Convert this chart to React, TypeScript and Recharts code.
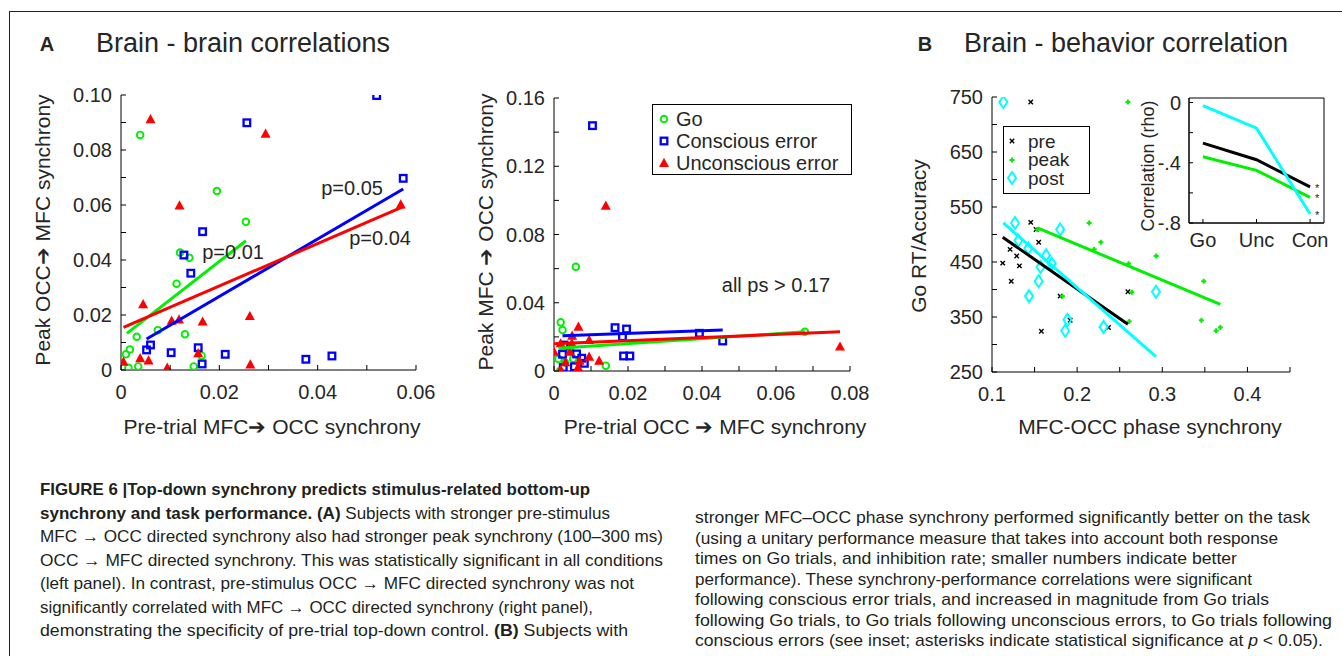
import React from "react";
import {
  ScatterChart,
  Scatter,
  XAxis,
  YAxis,
  Legend,
  ReferenceDot,
  ReferenceArea,
  LineChart,
  Line,
} from "recharts";

const FONT = "'Liberation Sans', Arial, Helvetica, sans-serif";
const INK = "#262626";
const GREEN = "#00f000";
const BLUE = "#0000ff";
const RED = "#ff0000";
const CYAN = "#00ffff";

// ---- Panel A, left: pre-trial MFC->OCC vs peak OCC->MFC
const leftGo = [
  { x: 0.0039, y: 0.0855 }, { x: 0.0195, y: 0.0651 }, { x: 0.0254, y: 0.0539 },
  { x: 0.012, y: 0.0427 }, { x: 0.0139, y: 0.0408 }, { x: 0.0113, y: 0.0314 },
  { x: 0.0075, y: 0.0145 }, { x: 0.0032, y: 0.0121 }, { x: 0.013, y: 0.013 },
  { x: 0.0018, y: 0.0075 }, { x: 0.001, y: 0.0057 }, { x: 0.0015, y: 0.0008 },
  { x: 0.0035, y: 0.0013 }, { x: 0.0148, y: 0.0013 }, { x: 0.0164, y: 0.0052 },
];
const leftCons = [
  { x: 0.052, y: 0.0998 }, { x: 0.0256, y: 0.0899 }, { x: 0.0574, y: 0.0697 },
  { x: 0.0166, y: 0.0503 }, { x: 0.0128, y: 0.0418 }, { x: 0.0142, y: 0.0352 },
  { x: 0.006, y: 0.0091 }, { x: 0.0052, y: 0.0073 }, { x: 0.0102, y: 0.0063 },
  { x: 0.0157, y: 0.0081 }, { x: 0.0212, y: 0.0057 }, { x: 0.0165, y: 0.0022 },
  { x: 0.0376, y: 0.0039 }, { x: 0.0429, y: 0.0051 },
];
const leftUnc = [
  { x: 0.006, y: 0.0912 }, { x: 0.0294, y: 0.0859 }, { x: 0.0119, y: 0.0598 },
  { x: 0.0569, y: 0.0602 }, { x: 0.0045, y: 0.0239 }, { x: 0.0103, y: 0.0179 },
  { x: 0.0118, y: 0.0184 }, { x: 0.0166, y: 0.0176 }, { x: 0.0262, y: 0.0196 },
  { x: 0.0005, y: 0.003 }, { x: 0.0039, y: 0.0043 }, { x: 0.0056, y: 0.0035 },
  { x: 0.0094, y: 0.0008 }, { x: 0.0157, y: 0.0061 }, { x: 0.0263, y: 0.002 },
];
const leftGoFit = [{ x: 0.0012, y: 0.0133 }, { x: 0.0254, y: 0.047 }];
const leftConsFit = [{ x: 0.0052, y: 0.0113 }, { x: 0.0574, y: 0.0658 }];
const leftUncFit = [{ x: 0.0005, y: 0.0155 }, { x: 0.0574, y: 0.0594 }];
const leftNotes = [
  { x: 0.0228, y: 0.0429, text: "p=0.01" },
  { x: 0.047, y: 0.0662, text: "p=0.05" },
  { x: 0.0527, y: 0.048, text: "p=0.04" },
];
const leftXTicks = [0, 0.01, 0.02, 0.03, 0.04, 0.05, 0.06];
const leftYTicks = [0, 0.01, 0.02, 0.03, 0.04, 0.05, 0.06, 0.07, 0.08, 0.09, 0.1];

// ---- Panel A, right: pre-trial OCC->MFC vs peak MFC->OCC
const midGo = [
  { x: 0.0059, y: 0.0611 }, { x: 0.0018, y: 0.0285 }, { x: 0.0023, y: 0.024 },
  { x: 0.0678, y: 0.023 }, { x: 0.014, y: 0.0031 }, { x: 0.0012, y: 0.007 },
  { x: 0.0016, y: 0.0 }, { x: 0.0043, y: 0.0133 }, { x: 0.0052, y: 0.0072 },
  { x: 0.003, y: 0.005 },
];
const midCons = [
  { x: 0.0104, y: 0.1438 }, { x: 0.0165, y: 0.0254 }, { x: 0.0196, y: 0.0246 },
  { x: 0.0185, y: 0.0201 }, { x: 0.0393, y: 0.0221 }, { x: 0.0456, y: 0.0176 },
  { x: 0.0188, y: 0.0088 }, { x: 0.0205, y: 0.0088 }, { x: 0.0023, y: 0.0098 },
  { x: 0.0027, y: 0.0152 }, { x: 0.0061, y: 0.01 }, { x: 0.0075, y: 0.0075 },
  { x: 0.0082, y: 0.0045 }, { x: 0.0055, y: 0.0025 }, { x: 0.0025, y: 0.002 },
];
const midUnc = [
  { x: 0.014, y: 0.0969 }, { x: 0.0773, y: 0.0143 }, { x: 0.0066, y: 0.026 },
  { x: 0.0049, y: 0.0207 }, { x: 0.0048, y: 0.0162 }, { x: 0.0095, y: 0.0182 },
  { x: 0.0018, y: 0.0162 }, { x: 0.0, y: 0.0113 }, { x: 0.0043, y: 0.0113 },
  { x: 0.0095, y: 0.0084 }, { x: 0.0122, y: 0.006 }, { x: 0.0069, y: 0.006 },
  { x: 0.0031, y: 0.0052 }, { x: 0.0065, y: 0.0022 }, { x: 0.0018, y: 0.0008 },
];
const midGoFit = [{ x: 0.0012, y: 0.0133 }, { x: 0.0678, y: 0.023 }];
const midConsFit = [{ x: 0.0023, y: 0.0207 }, { x: 0.0456, y: 0.024 }];
const midUncFit = [{ x: 0.0, y: 0.016 }, { x: 0.0773, y: 0.023 }];
const midNotes = [{ x: 0.06, y: 0.0504, text: "all ps > 0.17" }];
const midXTicks = [0, 0.01, 0.02, 0.03, 0.04, 0.05, 0.06, 0.07, 0.08];
const midYTicks = [0, 0.02, 0.04, 0.06, 0.08, 0.1, 0.12, 0.14, 0.16];
const midLegend = [
  { key: "go", label: "Go" },
  { key: "cons", label: "Conscious error" },
  { key: "unc", label: "Unconscious error" },
];

// ---- Panel B: MFC-OCC phase synchrony vs Go RT/accuracy
const bPre = [
  { x: 0.1455, y: 741 }, { x: 0.1455, y: 522 }, { x: 0.1518, y: 509 },
  { x: 0.1548, y: 486 }, { x: 0.1212, y: 473 }, { x: 0.129, y: 461 },
  { x: 0.1126, y: 448 }, { x: 0.1322, y: 443 }, { x: 0.1226, y: 415 },
  { x: 0.18, y: 388 }, { x: 0.1918, y: 344 }, { x: 0.2596, y: 396 },
  { x: 0.2368, y: 331 }, { x: 0.158, y: 324 },
];
const bPeak = [
  { x: 0.2596, y: 741 }, { x: 0.1534, y: 509 }, { x: 0.2141, y: 521 },
  { x: 0.2279, y: 486 }, { x: 0.22, y: 473 }, { x: 0.2604, y: 447 },
  { x: 0.2929, y: 461 }, { x: 0.3486, y: 415 }, { x: 0.2643, y: 395 },
  { x: 0.1827, y: 388 }, { x: 0.2612, y: 342 }, { x: 0.3459, y: 344 },
  { x: 0.3632, y: 325 }, { x: 0.3682, y: 331 },
];
const bPost = [
  { x: 0.1133, y: 741 }, { x: 0.127, y: 521 }, { x: 0.18, y: 509 },
  { x: 0.131, y: 489 }, { x: 0.1427, y: 475 }, { x: 0.1635, y: 462 },
  { x: 0.1702, y: 447 }, { x: 0.157, y: 441 }, { x: 0.1548, y: 415 },
  { x: 0.1435, y: 388 }, { x: 0.2926, y: 396 }, { x: 0.1886, y: 345 },
  { x: 0.1859, y: 325 }, { x: 0.231, y: 332 },
];
const bPreFit = [{ x: 0.1126, y: 495 }, { x: 0.2596, y: 337 }];
const bPeakFit = [{ x: 0.1534, y: 512 }, { x: 0.3682, y: 373 }];
const bPostFit = [{ x: 0.1133, y: 521 }, { x: 0.2926, y: 278 }];
const bXTicks = [0.1, 0.15, 0.2, 0.25, 0.3, 0.35, 0.4, 0.45];
const bYTicks = [250, 300, 350, 400, 450, 500, 550, 600, 650, 700, 750];
const bLegend = [
  { key: "pre", label: "pre" },
  { key: "peak", label: "peak" },
  { key: "post", label: "post" },
];

// ---- Panel B inset: correlation per condition
const insetCats = ["Go", "Unc", "Con"];
const insetPre = [-0.27, -0.38, -0.56];
const insetPeak = [-0.36, -0.45, -0.63];
const insetPost = [-0.02, -0.17, -0.74];
const insetYTicks = [-0.8, -0.6, -0.4, -0.2, 0];
const insetRows = insetCats.map((c, i) => ({
  pos: i + 1,
  cat: c,
  pre: insetPre[i],
  peak: insetPeak[i],
  post: insetPost[i],
}));

// ---- caption
type Seg = { t: string; b?: boolean; i?: boolean };
const captionLeft: Seg[][] = [
  [{ t: "FIGURE 6 |Top-down synchrony predicts stimulus-related bottom-up", b: true }],
  [{ t: "synchrony and task performance. (A)", b: true }, { t: " Subjects with stronger pre-stimulus" }],
  [{ t: "MFC \u2192 OCC directed synchrony also had stronger peak synchrony (100\u2013300 ms)" }],
  [{ t: "OCC \u2192 MFC directed synchrony. This was statistically significant in all conditions" }],
  [{ t: "(left panel). In contrast, pre-stimulus OCC \u2192 MFC directed synchrony was not" }],
  [{ t: "significantly correlated with MFC \u2192 OCC directed synchrony (right panel)," }],
  [{ t: "demonstrating the specificity of pre-trial top-down control. " }, { t: "(B)", b: true }, { t: " Subjects with" }],
];
const captionRight: Seg[][] = [
  [{ t: "stronger MFC\u2013OCC phase synchrony performed significantly better on the task" }],
  [{ t: "(using a unitary performance measure that takes into account both response" }],
  [{ t: "times on Go trials, and inhibition rate; smaller numbers indicate better" }],
  [{ t: "performance). These synchrony-performance correlations were significant" }],
  [{ t: "following conscious error trials, and increased in magnitude from Go trials" }],
  [{ t: "following Go trials, to Go trials following unconscious errors, to Go trials following" }],
  [{ t: "conscious errors (see inset; asterisks indicate statistical significance at " }, { t: "p", i: true }, { t: " < 0.05)." }],
];
const captionLeftWidths = [550, 570, 623, 623, 594, 553, 588];
const captionRightWidths = [615, 583, 542, 557, 574, 637, 628];

// ---- markers
const GoMark = (p: any) => (
  <circle cx={p.cx} cy={p.cy} r={3.3} fill="none" stroke={GREEN} strokeWidth={1.9} />
);
const ConsMark = (p: any) => (
  <rect x={p.cx - 3.3} y={p.cy - 3.3} width={6.6} height={6.6} fill="none" stroke={BLUE} strokeWidth={2.3} />
);
const UncMark = (p: any) => (
  <polygon
    points={`${p.cx},${p.cy - 5.2} ${p.cx + 5},${p.cy + 4} ${p.cx - 5},${p.cy + 4}`}
    fill={RED}
  />
);
const PreMark = (p: any) => (
  <g stroke="#000" strokeWidth={1.4}>
    <line x1={p.cx - 2.2} y1={p.cy - 2.2} x2={p.cx + 2.2} y2={p.cy + 2.2} />
    <line x1={p.cx - 2.2} y1={p.cy + 2.2} x2={p.cx + 2.2} y2={p.cy - 2.2} />
  </g>
);
const PeakMark = (p: any) => (
  <g stroke={GREEN} strokeWidth={2}>
    <line x1={p.cx - 2.5} y1={p.cy} x2={p.cx + 2.5} y2={p.cy} />
    <line x1={p.cx} y1={p.cy - 2.5} x2={p.cx} y2={p.cy + 2.5} />
  </g>
);
const PostMark = (p: any) => (
  <polygon
    points={`${p.cx},${p.cy - 6} ${p.cx + 4},${p.cy} ${p.cx},${p.cy + 6} ${p.cx - 4},${p.cy}`}
    fill="none"
    stroke={CYAN}
    strokeWidth={2}
  />
);
const NoMark = () => <g />;

const markerFor: Record<string, (p: any) => React.ReactElement> = {
  go: GoMark,
  cons: ConsMark,
  unc: UncMark,
  pre: PreMark,
  peak: PeakMark,
  post: PostMark,
};

// ---- ticks (inward, Matlab style)
function bottomTick(fmt: (v: number) => string, len = 5, dy = 29) {
  return (props: any) => {
    const { x, y, payload } = props;
    const label = fmt(payload.value);
    return (
      <g>
        <line x1={x} x2={x} y1={y} y2={y - len} stroke="#000" />
        {label ? (
          <text x={x} y={y + dy} textAnchor="middle" fontSize={20} fill={INK} fontFamily={FONT}>
            {label}
          </text>
        ) : null}
      </g>
    );
  };
}
function leftTick(fmt: (v: number) => string, len = 5, dx = 9) {
  return (props: any) => {
    const { x, y, payload } = props;
    const label = fmt(payload.value);
    return (
      <g>
        <line x1={x} x2={x + len} y1={y} y2={y} stroke="#000" />
        {label ? (
          <text x={x - dx} y={y + 7} textAnchor="end" fontSize={20} fill={INK} fontFamily={FONT}>
            {label}
          </text>
        ) : null}
      </g>
    );
  };
}
const every = (step: number, digits: number, zero = "0") => (v: number) => {
  const k = Math.round(v / step);
  if (k % 2 !== 0) return "";
  if (Math.abs(v) < 1e-9) return zero;
  return v.toFixed(digits);
};

const axisLine = { stroke: "#000", strokeWidth: 1 };

function Text({ x, y, children, size = 21, rotate = false, bold = false }: any) {
  return (
    <div
      style={{
        position: "absolute",
        left: x,
        top: y,
        transform: `translate(-50%, -50%)${rotate ? " rotate(-90deg)" : ""}`,
        whiteSpace: "nowrap",
        fontFamily: FONT,
        fontSize: size,
        fontWeight: bold ? 700 : 400,
        color: INK,
        lineHeight: 1,
      }}
    >
      {children}
    </div>
  );
}

function LegendBox({ items, width, height, rowTop, rowStep, markX, textX, size = 20 }: any) {
  return (
    <div
      style={{
        position: "relative",
        width,
        height,
        border: "1px solid #000",
        background: "#fff",
        fontFamily: FONT,
        fontSize: size,
        color: INK,
      }}
    >
      {items.map((it: any, i: number) => {
        const M = markerFor[it.key];
        const cy = rowTop + i * rowStep;
        return (
          <React.Fragment key={it.key}>
            <svg style={{ position: "absolute", left: markX - 8, top: cy - 8 }} width={16} height={16}>
              <M cx={8} cy={8} />
            </svg>
            <div style={{ position: "absolute", left: textX, top: cy - size / 2, lineHeight: `${size}px` }}>
              {it.label}
            </div>
          </React.Fragment>
        );
      })}
    </div>
  );
}

function Caption() {
  const renderLines = (lines: Seg[][], widths: number[], x: number, y0: number, step: number) =>
    lines.map((segs, i) => (
      <text
        key={i}
        x={x}
        y={y0 + i * step}
        textLength={widths[i]}
        lengthAdjust="spacingAndGlyphs"
        fontSize={17}
        fontFamily={FONT}
        fill="#231f20"
      >
        {segs.map((s, j) => (
          <tspan key={j} fontWeight={s.b ? 700 : 400} fontStyle={s.i ? "italic" : "normal"}>
            {s.t}
          </tspan>
        ))}
      </text>
    ));
  return (
    <svg style={{ position: "absolute", left: 0, top: 0 }} width={1342} height={656}>
      {renderLines(captionLeft, captionLeftWidths, 40, 495, 23.5)}
      {renderLines(captionRight, captionRightWidths, 695, 523, 20.5)}
    </svg>
  );
}

export default function App() {
  return (
    <div
      style={{
        position: "absolute",
        left: 0,
        top: 0,
        width: 1342,
        height: 656,
        background: "#fff",
        overflow: "hidden",
        fontFamily: FONT,
      }}
    >
      <div
        style={{
          position: "absolute",
          left: 9,
          top: 11,
          width: 1400,
          height: 700,
          borderLeft: "1px solid #222",
          borderTop: "1px solid #222",
        }}
      />

      <Text x={47} y={44} size={20} bold>A</Text>
      <Text x={243} y={43} size={27}>Brain - brain correlations</Text>
      <Text x={925} y={44} size={20} bold>B</Text>
      <Text x={1126} y={43} size={27}>Brain - behavior correlation</Text>

      {/* Panel A left */}
      <div style={{ position: "absolute", left: 0, top: 0 }}>
        <ScatterChart width={440} height={450} margin={{ top: 95, right: 24, bottom: 50, left: 61 }}>
          <XAxis
            type="number"
            dataKey="x"
            domain={[0, 0.06]}
            ticks={leftXTicks}
            interval={0}
            height={30}
            tickSize={0}
            tickMargin={0}
            axisLine={axisLine}
            tickLine={false}
            tick={bottomTick(every(0.01, 2))}
            allowDataOverflow
          />
          <YAxis
            type="number"
            dataKey="y"
            domain={[0, 0.1]}
            ticks={leftYTicks}
            interval={0}
            width={60}
            tickSize={0}
            tickMargin={0}
            axisLine={axisLine}
            tickLine={false}
            tick={leftTick(every(0.01, 2))}
            allowDataOverflow
          />
          <Scatter data={leftGo} shape={GoMark} isAnimationActive={false} />
          <Scatter data={leftCons} shape={ConsMark} isAnimationActive={false} />
          <Scatter data={leftUnc} shape={UncMark} isAnimationActive={false} />
          <Scatter data={leftGoFit} shape={NoMark} line={{ stroke: GREEN, strokeWidth: 3 }} isAnimationActive={false} />
          <Scatter data={leftConsFit} shape={NoMark} line={{ stroke: BLUE, strokeWidth: 3 }} isAnimationActive={false} />
          <Scatter data={leftUncFit} shape={NoMark} line={{ stroke: RED, strokeWidth: 3 }} isAnimationActive={false} />
          {leftNotes.map((n) => (
            <ReferenceDot
              key={n.text}
              x={n.x}
              y={n.y}
              r={0}
              fill="none"
              stroke="none"
              label={{ value: n.text, position: "center", fontSize: 20, fill: INK, fontFamily: FONT }}
            />
          ))}
        </ScatterChart>
      </div>
      <Text x={42} y={230} rotate>Peak OCC{"\u2794"} MFC synchrony</Text>
      <Text x={272} y={426}>Pre-trial MFC{"\u2794"} OCC synchrony</Text>

      {/* Panel A right */}
      <div style={{ position: "absolute", left: 440, top: 0 }}>
        <ScatterChart width={440} height={450} margin={{ top: 98, right: 30, bottom: 49, left: 54 }}>
          <XAxis
            type="number"
            dataKey="x"
            domain={[0, 0.08]}
            ticks={midXTicks}
            interval={0}
            height={30}
            tickSize={0}
            tickMargin={0}
            axisLine={axisLine}
            tickLine={false}
            tick={bottomTick(every(0.01, 2))}
            allowDataOverflow
          />
          <YAxis
            type="number"
            dataKey="y"
            domain={[0, 0.16]}
            ticks={midYTicks}
            interval={0}
            width={60}
            tickSize={0}
            tickMargin={0}
            axisLine={axisLine}
            tickLine={false}
            tick={leftTick(every(0.02, 2))}
            allowDataOverflow
          />
          <Scatter data={midGo} shape={GoMark} isAnimationActive={false} />
          <Scatter data={midCons} shape={ConsMark} isAnimationActive={false} />
          <Scatter data={midUnc} shape={UncMark} isAnimationActive={false} />
          <Scatter data={midConsFit} shape={NoMark} line={{ stroke: BLUE, strokeWidth: 3 }} isAnimationActive={false} />
          <Scatter data={midGoFit} shape={NoMark} line={{ stroke: GREEN, strokeWidth: 3 }} isAnimationActive={false} />
          <Scatter data={midUncFit} shape={NoMark} line={{ stroke: RED, strokeWidth: 3 }} isAnimationActive={false} />
          {midNotes.map((n) => (
            <ReferenceDot
              key={n.text}
              x={n.x}
              y={n.y}
              r={0}
              fill="none"
              stroke="none"
              label={{ value: n.text, position: "center", fontSize: 20, fill: INK, fontFamily: FONT }}
            />
          ))}
          <Legend
            layout="horizontal"
            verticalAlign="middle"
            align="center"
            wrapperStyle={{ left: 212, top: 104, width: 200, height: 71 }}
            content={() => (
              <LegendBox items={midLegend} width={198} height={69} rowTop={14} rowStep={22} markX={11} textX={23} />
            )}
          />
        </ScatterChart>
      </div>
      <Text x={485} y={232} rotate>Peak MFC {"\u2794"} OCC synchrony</Text>
      <Text x={715} y={426}>Pre-trial OCC {"\u2794"} MFC synchrony</Text>

      {/* Panel B */}
      <div style={{ position: "absolute", left: 900, top: 0 }}>
        <ScatterChart width={420} height={460} margin={{ top: 97, right: 30, bottom: 58, left: 32 }}>
          <XAxis
            type="number"
            dataKey="x"
            domain={[0.1, 0.45]}
            ticks={bXTicks}
            interval={0}
            height={30}
            tickSize={0}
            tickMargin={0}
            axisLine={axisLine}
            tickLine={false}
            tick={bottomTick((v) => (Math.round(v * 100) % 10 === 0 ? v.toFixed(1) : ""))}
            allowDataOverflow
          />
          <YAxis
            type="number"
            dataKey="y"
            domain={[250, 750]}
            ticks={bYTicks}
            interval={0}
            width={60}
            tickSize={0}
            tickMargin={0}
            axisLine={axisLine}
            tickLine={false}
            tick={leftTick((v) => (v % 100 === 50 ? String(v) : ""))}
            allowDataOverflow
          />
          <Scatter data={bPre} shape={PreMark} isAnimationActive={false} />
          <Scatter data={bPeak} shape={PeakMark} isAnimationActive={false} />
          <Scatter data={bPost} shape={PostMark} isAnimationActive={false} />
          <Scatter data={bPeakFit} shape={NoMark} line={{ stroke: GREEN, strokeWidth: 3 }} isAnimationActive={false} />
          <Scatter data={bPreFit} shape={NoMark} line={{ stroke: "#000", strokeWidth: 3 }} isAnimationActive={false} />
          <Scatter data={bPostFit} shape={NoMark} line={{ stroke: CYAN, strokeWidth: 3 }} isAnimationActive={false} />
          <Legend
            layout="horizontal"
            verticalAlign="middle"
            align="center"
            wrapperStyle={{ left: 103, top: 126, width: 87, height: 68 }}
            content={() => (
              <LegendBox items={bLegend} width={85} height={66} rowTop={14} rowStep={18.5} markX={8} textX={24} size={19} />
            )}
          />
        </ScatterChart>
      </div>
      <Text x={918} y={236} rotate>Go RT/Accuracy</Text>
      <Text x={1150} y={426}>MFC-OCC phase synchrony</Text>

      {/* Inset */}
      <div style={{ position: "absolute", left: 1120, top: 60 }}>
        <LineChart width={220} height={200} data={insetRows} margin={{ top: 38, right: 16, bottom: 17, left: 39 }}>
          <XAxis
            type="number"
            dataKey="pos"
            domain={[0.74, 3.26]}
            ticks={[1, 2, 3]}
            interval={0}
            height={20}
            tickSize={0}
            tickMargin={0}
            axisLine={axisLine}
            tickLine={false}
            tick={bottomTick((v) => insetCats[Math.round(v) - 1] ?? "", 4, 24)}
            allowDataOverflow
          />
          <YAxis
            type="number"
            domain={[-0.8, 0.03]}
            ticks={insetYTicks}
            interval={0}
            width={30}
            tickSize={0}
            tickMargin={0}
            axisLine={axisLine}
            tickLine={false}
            tick={leftTick((v) => {
              const k = Math.round(v * 10);
              if (k === 0) return "0";
              if (k % 4 !== 0) return "";
              return "-." + Math.abs(k);
            }, 4, 8)}
            allowDataOverflow
          />
          <ReferenceArea x1={0.74} x2={3.26} y1={-0.8} y2={0.03} fill="#fff" fillOpacity={1} stroke="#000" strokeWidth={1} />
          {[
            { key: "pre", color: "#000" },
            { key: "peak", color: GREEN },
            { key: "post", color: CYAN },
          ].map((s) => (
            <Line
              key={s.key}
              dataKey={s.key}
              stroke={s.color}
              strokeWidth={3}
              dot={false}
              isAnimationActive={false}
              label={(p: any) =>
                p.index === 2 ? (
                  <text x={p.x + 7} y={p.y + 5} fontSize={11} fill={INK} fontFamily={FONT} textAnchor="middle">
                    *
                  </text>
                ) : (
                  <g />
                )
              }
            />
          ))}
        </LineChart>
      </div>
      <Text x={1148} y={166} size={18} rotate>Correlation (rho)</Text>

      <Caption />
    </div>
  );
}
